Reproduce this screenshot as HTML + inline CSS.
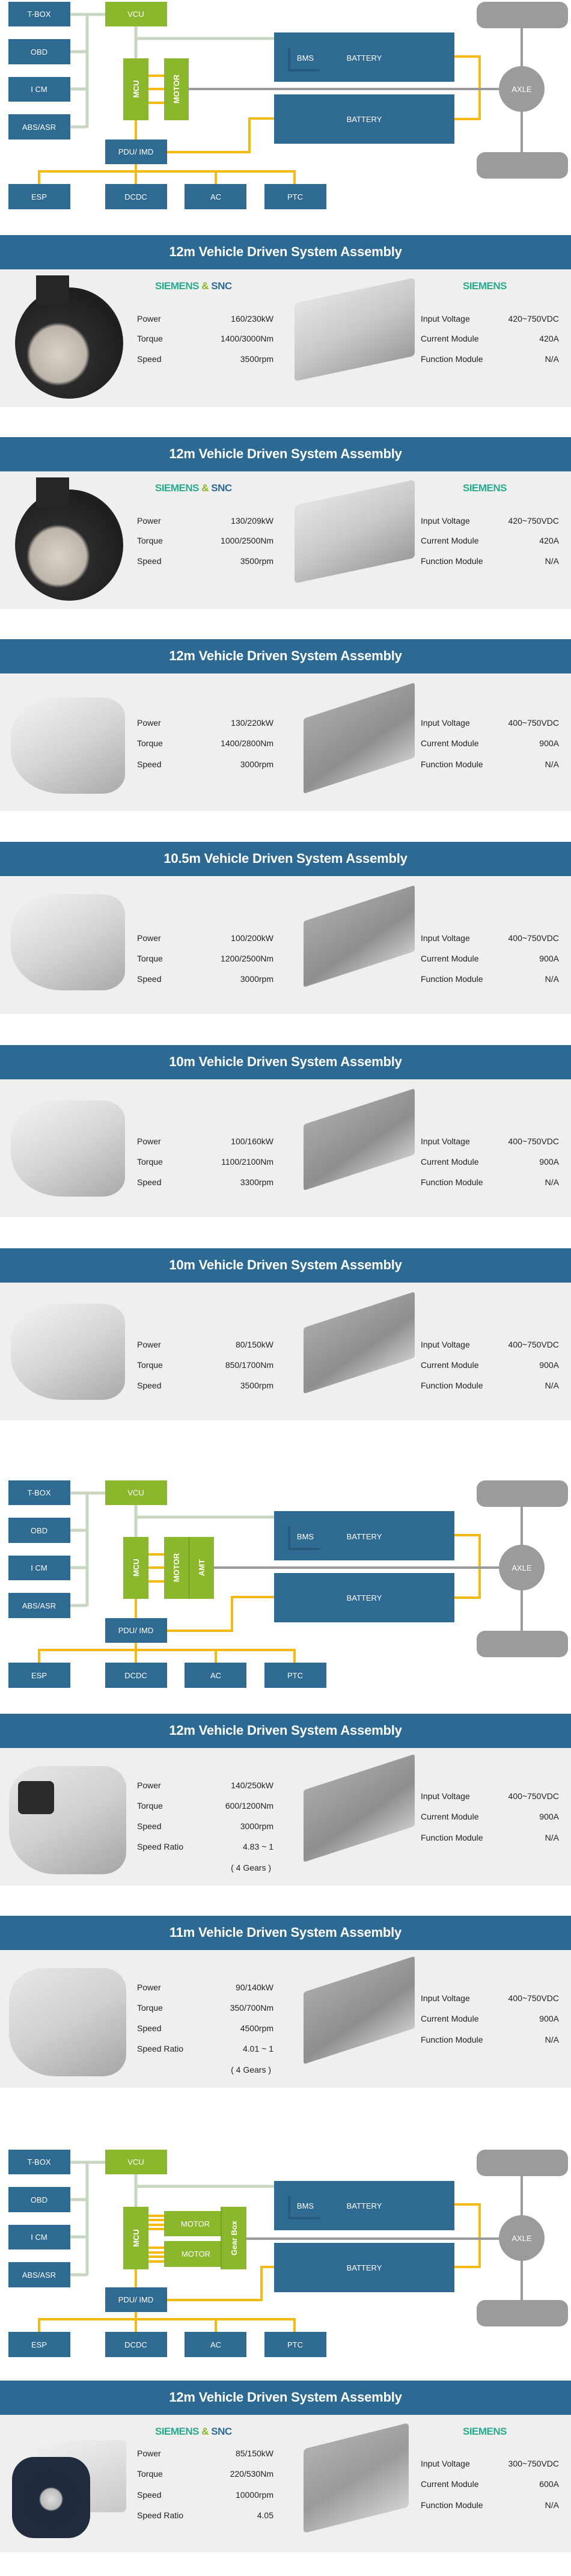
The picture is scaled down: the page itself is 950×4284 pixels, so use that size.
<!DOCTYPE html>
<html><head><meta charset="utf-8"><style>
*{margin:0;padding:0;box-sizing:border-box}
body{width:950px;height:4284px;background:#fff;position:relative;overflow:hidden;font-family:"Liberation Sans",sans-serif}
.dg{position:absolute;left:0;width:950px;height:350px}
.sec{position:absolute;left:0;width:950px;height:286px}
.hd{position:absolute;left:0;top:0;width:950px;height:57px;background:#2c6a93;color:#fff;font-weight:bold;font-size:22px;text-align:center;line-height:56px;letter-spacing:-0.2px}
.pn{position:absolute;left:0;top:57px;width:950px;height:229px;background:#efefef}
.r{position:absolute;font-size:14px;color:#222;line-height:16px;height:16px;white-space:nowrap}
.v{text-align:right}
.br{position:absolute;font-size:17px;font-weight:bold;letter-spacing:-0.5px;color:#2aaa8a;top:18px}
.mot{position:absolute}
</style></head><body>

<!-- Diagram template as SVG symbols defined inline per diagram -->
<svg class="dg" style="top:0" viewBox="0 0 950 350">
<g fill="none" stroke="#c9d6c1" stroke-width="5">
<path d="M117 24H175M145 24V212M117 86H145M117 148H145M117 211H145M226 44V97M226 64H510V76"/></g>
<g fill="none" stroke="#f5b914" stroke-width="4">
<path d="M247 126H273M247 148H273M247 171H273M226 200V232M278 253H415V197H456M756 94H798V198H756M226 273V306M65 306V285H490V306M359 285V306"/></g>
<g fill="none" stroke="#9a9a9a" stroke-width="4"><path d="M314 148H830M868 47V253"/></g>
<rect x="793" y="3" width="152" height="44" rx="14" fill="#9b9b9b"/><rect x="793" y="253" width="152" height="44" rx="14" fill="#9b9b9b"/>
<ellipse cx="868" cy="148" rx="38" ry="38" fill="#9b9b9b"/>
<g fill="#2f6a92"><rect x="14" y="3" width="103" height="41"/><rect x="14" y="65" width="103" height="42"/><rect x="14" y="128" width="103" height="41"/><rect x="14" y="190" width="103" height="42"/><rect x="175" y="232" width="103" height="41"/><rect x="14" y="306" width="103" height="42"/><rect x="175" y="306" width="103" height="42"/><rect x="307" y="306" width="103" height="42"/><rect x="440" y="306" width="103" height="42"/><rect x="456" y="54" width="300" height="82"/><rect x="456" y="157" width="300" height="82"/></g>
<path d="M481 80V117H532" stroke="#24577a" stroke-width="3" fill="none"/>
<g fill="#8ab72b"><rect x="175" y="3" width="103" height="41"/><rect x="205" y="97" width="42" height="103"/><rect x="273" y="97" width="41" height="103"/></g>
<g fill="#fff" font-family="Liberation Sans,sans-serif" font-size="13" text-anchor="middle">
<text x="65" y="28">T-BOX</text><text x="65" y="91">OBD</text><text x="65" y="153">I CM</text><text x="65" y="216">ABS/ASR</text><text x="226" y="28">VCU</text><text x="226" y="257">PDU/ IMD</text><text x="65" y="332">ESP</text><text x="226" y="332">DCDC</text><text x="359" y="332">AC</text><text x="491" y="332">PTC</text><text x="508" y="101">BMS</text><text x="606" y="101">BATTERY</text><text x="606" y="203">BATTERY</text><text x="868" y="153">AXLE</text>
<text font-weight="bold" transform="translate(231,148) rotate(-90)">MCU</text><text font-weight="bold" transform="translate(298,148) rotate(-90)">MOTOR</text></g>
</svg>

<svg class="dg" style="top:2459px" viewBox="0 0 950 350">
<g fill="none" stroke="#c9d6c1" stroke-width="5">
<path d="M117 24H175M145 24V212M117 86H145M117 148H145M117 211H145M226 44V97M226 64H510V76"/></g>
<g fill="none" stroke="#f5b914" stroke-width="4">
<path d="M247 126H273M247 148H273M247 171H273M226 200V232M278 253H386V197H456M756 94H798V198H756M226 273V306M65 306V285H490V306M359 285V306"/></g>
<g fill="none" stroke="#9a9a9a" stroke-width="4"><path d="M356 148H830M868 47V253"/></g>
<rect x="793" y="3" width="152" height="44" rx="14" fill="#9b9b9b"/><rect x="793" y="253" width="152" height="44" rx="14" fill="#9b9b9b"/>
<ellipse cx="868" cy="148" rx="38" ry="38" fill="#9b9b9b"/>
<g fill="#2f6a92"><rect x="14" y="3" width="103" height="41"/><rect x="14" y="65" width="103" height="42"/><rect x="14" y="128" width="103" height="41"/><rect x="14" y="190" width="103" height="42"/><rect x="175" y="232" width="103" height="41"/><rect x="14" y="306" width="103" height="42"/><rect x="175" y="306" width="103" height="42"/><rect x="307" y="306" width="103" height="42"/><rect x="440" y="306" width="103" height="42"/><rect x="456" y="54" width="300" height="82"/><rect x="456" y="157" width="300" height="82"/></g>
<path d="M481 80V117H532" stroke="#24577a" stroke-width="3" fill="none"/>
<g fill="#8ab72b"><rect x="175" y="3" width="103" height="41"/><rect x="205" y="97" width="42" height="103"/><rect x="273" y="97" width="41" height="103"/><rect x="315" y="97" width="41" height="103"/></g>
<path d="M314.5 97V200" stroke="#6f9a1f" stroke-width="1.5"/>
<g fill="#fff" font-family="Liberation Sans,sans-serif" font-size="13" text-anchor="middle">
<text x="65" y="28">T-BOX</text><text x="65" y="91">OBD</text><text x="65" y="153">I CM</text><text x="65" y="216">ABS/ASR</text><text x="226" y="28">VCU</text><text x="226" y="257">PDU/ IMD</text><text x="65" y="332">ESP</text><text x="226" y="332">DCDC</text><text x="359" y="332">AC</text><text x="491" y="332">PTC</text><text x="508" y="101">BMS</text><text x="606" y="101">BATTERY</text><text x="606" y="203">BATTERY</text><text x="868" y="153">AXLE</text>
<text font-weight="bold" transform="translate(231,148) rotate(-90)">MCU</text><text font-weight="bold" transform="translate(298,148) rotate(-90)">MOTOR</text><text font-weight="bold" transform="translate(340,148) rotate(-90)">AMT</text></g>
</svg>

<svg class="dg" style="top:3572px" viewBox="0 0 950 350">
<g fill="none" stroke="#c9d6c1" stroke-width="5">
<path d="M117 24H175M145 24V212M117 86H145M117 148H145M117 211H145M226 44V98M226 64H510V76"/></g>
<g fill="none" stroke="#f5b914" stroke-width="4">
<path d="M247 113H273M247 120H273M247 128H273M247 135H273M247 166H273M247 174H273M247 181H273M247 189H273M226 202V232M278 253H435V198H456M756 94H798V198H756M226 273V306M65 306V285H490V306M359 285V306"/></g>
<g fill="none" stroke="#9a9a9a" stroke-width="4"><path d="M410 151H830M868 47V253"/></g>
<rect x="793" y="3" width="152" height="44" rx="14" fill="#9b9b9b"/><rect x="793" y="253" width="152" height="44" rx="14" fill="#9b9b9b"/>
<ellipse cx="868" cy="150" rx="38" ry="38" fill="#9b9b9b"/>
<g fill="#2f6a92"><rect x="14" y="3" width="103" height="41"/><rect x="14" y="65" width="103" height="42"/><rect x="14" y="128" width="103" height="41"/><rect x="14" y="190" width="103" height="42"/><rect x="175" y="232" width="103" height="41"/><rect x="14" y="306" width="103" height="42"/><rect x="175" y="306" width="103" height="42"/><rect x="307" y="306" width="103" height="42"/><rect x="440" y="306" width="103" height="42"/><rect x="456" y="55" width="300" height="82"/><rect x="456" y="158" width="300" height="82"/></g>
<path d="M481 80V117H532" stroke="#24577a" stroke-width="3" fill="none"/>
<g fill="#8ab72b"><rect x="175" y="3" width="103" height="41"/><rect x="205" y="98" width="42" height="104"/><rect x="273" y="105" width="95" height="42"/><rect x="273" y="155" width="95" height="43"/><rect x="368" y="98" width="42" height="104"/></g>
<path d="M368 98V202" stroke="#6f9a1f" stroke-width="1.5"/>
<g fill="#fff" font-family="Liberation Sans,sans-serif" font-size="13" text-anchor="middle">
<text x="65" y="28">T-BOX</text><text x="65" y="91">OBD</text><text x="65" y="153">I CM</text><text x="65" y="216">ABS/ASR</text><text x="226" y="28">VCU</text><text x="226" y="257">PDU/ IMD</text><text x="65" y="332">ESP</text><text x="226" y="332">DCDC</text><text x="359" y="332">AC</text><text x="491" y="332">PTC</text><text x="508" y="101">BMS</text><text x="606" y="101">BATTERY</text><text x="606" y="204">BATTERY</text><text x="868" y="155">AXLE</text>
<text x="325" y="131">MOTOR</text><text x="326" y="181">MOTOR</text>
<text font-weight="bold" transform="translate(231,150) rotate(-90)">MCU</text><text font-weight="bold" transform="translate(394,150) rotate(-90)">Gear Box</text></g>
</svg>

<!-- Section 1 -->
<div class="sec" style="top:391px"><div class="hd">12m Vehicle Driven System Assembly</div><div class="pn">
<div class="br" style="left:258px">SIEMENS <span style="color:#8ab72b">&amp;</span> <span style="color:#2e6a96">SNC</span></div><div class="br" style="left:770px">SIEMENS</div>
<div class="mot" style="left:25px;top:30px;width:180px;height:185px;border-radius:50%;background:radial-gradient(circle at 40% 60%,#d8d2c8 0,#bdb5aa 30%,#2b2b2b 34%,#1e1e1e 70%,#333 100%)"></div>
<div class="mot" style="left:60px;top:10px;width:55px;height:50px;background:#262626"></div>
<div class="mot" style="left:490px;top:35px;width:200px;height:130px;background:linear-gradient(160deg,#e4e4e4,#c9c9c9 50%,#9c9c9c);transform:skewY(-12deg);border-radius:6px"></div>
<div class="r" style="left:228px;top:74px">Power</div><div class="r v" style="left:320px;width:135px;top:74px">160/230kW</div>
<div class="r" style="left:228px;top:107px">Torque</div><div class="r v" style="left:320px;width:135px;top:107px">1400/3000Nm</div>
<div class="r" style="left:228px;top:141px">Speed</div><div class="r v" style="left:320px;width:135px;top:141px">3500rpm</div>
<div class="r" style="left:700px;top:74px">Input Voltage</div><div class="r v" style="left:800px;width:130px;top:74px">420~750VDC</div>
<div class="r" style="left:700px;top:107px">Current Module</div><div class="r v" style="left:800px;width:130px;top:107px">420A</div>
<div class="r" style="left:700px;top:141px">Function Module</div><div class="r v" style="left:800px;width:130px;top:141px">N/A</div>
</div></div>

<!-- Section 2 -->
<div class="sec" style="top:727px"><div class="hd">12m Vehicle Driven System Assembly</div><div class="pn">
<div class="br" style="left:258px">SIEMENS <span style="color:#8ab72b">&amp;</span> <span style="color:#2e6a96">SNC</span></div><div class="br" style="left:770px">SIEMENS</div>
<div class="mot" style="left:25px;top:30px;width:180px;height:185px;border-radius:50%;background:radial-gradient(circle at 40% 60%,#d8d2c8 0,#bdb5aa 30%,#2b2b2b 34%,#1e1e1e 70%,#333 100%)"></div>
<div class="mot" style="left:60px;top:10px;width:55px;height:50px;background:#262626"></div>
<div class="mot" style="left:490px;top:35px;width:200px;height:130px;background:linear-gradient(160deg,#e4e4e4,#c9c9c9 50%,#9c9c9c);transform:skewY(-12deg);border-radius:6px"></div>
<div class="r" style="left:228px;top:74px">Power</div><div class="r v" style="left:320px;width:135px;top:74px">130/209kW</div>
<div class="r" style="left:228px;top:107px">Torque</div><div class="r v" style="left:320px;width:135px;top:107px">1000/2500Nm</div>
<div class="r" style="left:228px;top:141px">Speed</div><div class="r v" style="left:320px;width:135px;top:141px">3500rpm</div>
<div class="r" style="left:700px;top:74px">Input Voltage</div><div class="r v" style="left:800px;width:130px;top:74px">420~750VDC</div>
<div class="r" style="left:700px;top:107px">Current Module</div><div class="r v" style="left:800px;width:130px;top:107px">420A</div>
<div class="r" style="left:700px;top:141px">Function Module</div><div class="r v" style="left:800px;width:130px;top:141px">N/A</div>
</div></div>

<!-- Sections 3-6 (silver motors) -->
<div class="sec" style="top:1063px"><div class="hd">12m Vehicle Driven System Assembly</div><div class="pn">
<div class="mot" style="left:18px;top:40px;width:190px;height:160px;border-radius:40% 20% 20% 45%;background:linear-gradient(150deg,#f4f4f4,#d6d6d6 50%,#a9a9a9)"></div>
<div class="mot" style="left:505px;top:45px;width:185px;height:125px;background:linear-gradient(160deg,#a8a8a8,#8e8e8e 60%,#c8c8c8);transform:skewY(-18deg);border-radius:4px"></div>
<div class="r" style="left:228px;top:74px">Power</div><div class="r v" style="left:320px;width:135px;top:74px">130/220kW</div>
<div class="r" style="left:228px;top:108px">Torque</div><div class="r v" style="left:320px;width:135px;top:108px">1400/2800Nm</div>
<div class="r" style="left:228px;top:143px">Speed</div><div class="r v" style="left:320px;width:135px;top:143px">3000rpm</div>
<div class="r" style="left:700px;top:74px">Input Voltage</div><div class="r v" style="left:800px;width:130px;top:74px">400~750VDC</div>
<div class="r" style="left:700px;top:108px">Current Module</div><div class="r v" style="left:800px;width:130px;top:108px">900A</div>
<div class="r" style="left:700px;top:143px">Function Module</div><div class="r v" style="left:800px;width:130px;top:143px">N/A</div>
</div></div>

<div class="sec" style="top:1400px"><div class="hd">10.5m Vehicle Driven System Assembly</div><div class="pn">
<div class="mot" style="left:18px;top:30px;width:190px;height:160px;border-radius:40% 20% 20% 45%;background:linear-gradient(150deg,#f4f4f4,#d6d6d6 50%,#a9a9a9)"></div>
<div class="mot" style="left:505px;top:45px;width:185px;height:110px;background:linear-gradient(160deg,#a8a8a8,#8e8e8e 60%,#c8c8c8);transform:skewY(-18deg);border-radius:4px"></div>
<div class="r" style="left:228px;top:95px">Power</div><div class="r v" style="left:320px;width:135px;top:95px">100/200kW</div>
<div class="r" style="left:228px;top:129px">Torque</div><div class="r v" style="left:320px;width:135px;top:129px">1200/2500Nm</div>
<div class="r" style="left:228px;top:163px">Speed</div><div class="r v" style="left:320px;width:135px;top:163px">3000rpm</div>
<div class="r" style="left:700px;top:95px">Input Voltage</div><div class="r v" style="left:800px;width:130px;top:95px">400~750VDC</div>
<div class="r" style="left:700px;top:129px">Current Module</div><div class="r v" style="left:800px;width:130px;top:129px">900A</div>
<div class="r" style="left:700px;top:163px">Function Module</div><div class="r v" style="left:800px;width:130px;top:163px">N/A</div>
</div></div>

<div class="sec" style="top:1738px"><div class="hd">10m Vehicle Driven System Assembly</div><div class="pn">
<div class="mot" style="left:18px;top:35px;width:190px;height:160px;border-radius:40% 20% 20% 45%;background:linear-gradient(150deg,#f4f4f4,#d6d6d6 50%,#a9a9a9)"></div>
<div class="mot" style="left:505px;top:45px;width:185px;height:110px;background:linear-gradient(160deg,#a8a8a8,#8e8e8e 60%,#c8c8c8);transform:skewY(-18deg);border-radius:4px"></div>
<div class="r" style="left:228px;top:95px">Power</div><div class="r v" style="left:320px;width:135px;top:95px">100/160kW</div>
<div class="r" style="left:228px;top:129px">Torque</div><div class="r v" style="left:320px;width:135px;top:129px">1100/2100Nm</div>
<div class="r" style="left:228px;top:163px">Speed</div><div class="r v" style="left:320px;width:135px;top:163px">3300rpm</div>
<div class="r" style="left:700px;top:95px">Input Voltage</div><div class="r v" style="left:800px;width:130px;top:95px">400~750VDC</div>
<div class="r" style="left:700px;top:129px">Current Module</div><div class="r v" style="left:800px;width:130px;top:129px">900A</div>
<div class="r" style="left:700px;top:163px">Function Module</div><div class="r v" style="left:800px;width:130px;top:163px">N/A</div>
</div></div>

<div class="sec" style="top:2076px"><div class="hd">10m Vehicle Driven System Assembly</div><div class="pn">
<div class="mot" style="left:18px;top:35px;width:190px;height:160px;border-radius:40% 20% 20% 45%;background:linear-gradient(150deg,#f4f4f4,#d6d6d6 50%,#a9a9a9)"></div>
<div class="mot" style="left:505px;top:45px;width:185px;height:110px;background:linear-gradient(160deg,#a8a8a8,#8e8e8e 60%,#c8c8c8);transform:skewY(-18deg);border-radius:4px"></div>
<div class="r" style="left:228px;top:95px">Power</div><div class="r v" style="left:320px;width:135px;top:95px">80/150kW</div>
<div class="r" style="left:228px;top:129px">Torque</div><div class="r v" style="left:320px;width:135px;top:129px">850/1700Nm</div>
<div class="r" style="left:228px;top:163px">Speed</div><div class="r v" style="left:320px;width:135px;top:163px">3500rpm</div>
<div class="r" style="left:700px;top:95px">Input Voltage</div><div class="r v" style="left:800px;width:130px;top:95px">400~750VDC</div>
<div class="r" style="left:700px;top:129px">Current Module</div><div class="r v" style="left:800px;width:130px;top:129px">900A</div>
<div class="r" style="left:700px;top:163px">Function Module</div><div class="r v" style="left:800px;width:130px;top:163px">N/A</div>
</div></div>

<!-- Sections 7-8 (AMT) -->
<div class="sec" style="top:2850px"><div class="hd">12m Vehicle Driven System Assembly</div><div class="pn">
<div class="mot" style="left:15px;top:30px;width:195px;height:180px;border-radius:30% 20% 20% 40%;background:linear-gradient(150deg,#e8e8e8,#d0d0d0 50%,#a5a5a5)"></div>
<div class="mot" style="left:30px;top:55px;width:60px;height:55px;background:#2a2a2a;border-radius:8px"></div>
<div class="mot" style="left:505px;top:40px;width:185px;height:120px;background:linear-gradient(160deg,#a8a8a8,#8e8e8e 60%,#c8c8c8);transform:skewY(-18deg);border-radius:4px"></div>
<div class="r" style="left:228px;top:54px">Power</div><div class="r v" style="left:320px;width:135px;top:54px">140/250kW</div>
<div class="r" style="left:228px;top:88px">Torque</div><div class="r v" style="left:320px;width:135px;top:88px">600/1200Nm</div>
<div class="r" style="left:228px;top:122px">Speed</div><div class="r v" style="left:320px;width:135px;top:122px">3000rpm</div>
<div class="r" style="left:228px;top:156px">Speed Ratio</div><div class="r v" style="left:320px;width:135px;top:156px">4.83 ~ 1</div>
<div class="r v" style="left:320px;width:131px;top:191px">( 4 Gears )</div>
<div class="r" style="left:700px;top:72px">Input Voltage</div><div class="r v" style="left:800px;width:130px;top:72px">400~750VDC</div>
<div class="r" style="left:700px;top:106px">Current Module</div><div class="r v" style="left:800px;width:130px;top:106px">900A</div>
<div class="r" style="left:700px;top:141px">Function Module</div><div class="r v" style="left:800px;width:130px;top:141px">N/A</div>
</div></div>

<div class="sec" style="top:3186px"><div class="hd">11m Vehicle Driven System Assembly</div><div class="pn">
<div class="mot" style="left:15px;top:30px;width:195px;height:180px;border-radius:30% 20% 20% 40%;background:linear-gradient(150deg,#e8e8e8,#d0d0d0 50%,#a5a5a5)"></div>
<div class="mot" style="left:505px;top:40px;width:185px;height:120px;background:linear-gradient(160deg,#a8a8a8,#8e8e8e 60%,#c8c8c8);transform:skewY(-18deg);border-radius:4px"></div>
<div class="r" style="left:228px;top:54px">Power</div><div class="r v" style="left:320px;width:135px;top:54px">90/140kW</div>
<div class="r" style="left:228px;top:88px">Torque</div><div class="r v" style="left:320px;width:135px;top:88px">350/700Nm</div>
<div class="r" style="left:228px;top:122px">Speed</div><div class="r v" style="left:320px;width:135px;top:122px">4500rpm</div>
<div class="r" style="left:228px;top:156px">Speed Ratio</div><div class="r v" style="left:320px;width:135px;top:156px">4.01 ~ 1</div>
<div class="r v" style="left:320px;width:131px;top:191px">( 4 Gears )</div>
<div class="r" style="left:700px;top:72px">Input Voltage</div><div class="r v" style="left:800px;width:130px;top:72px">400~750VDC</div>
<div class="r" style="left:700px;top:106px">Current Module</div><div class="r v" style="left:800px;width:130px;top:106px">900A</div>
<div class="r" style="left:700px;top:141px">Function Module</div><div class="r v" style="left:800px;width:130px;top:141px">N/A</div>
</div></div>

<!-- Section 9 -->
<div class="sec" style="top:3959px"><div class="hd">12m Vehicle Driven System Assembly</div><div class="pn">
<div class="br" style="left:258px">SIEMENS <span style="color:#8ab72b">&amp;</span> <span style="color:#2e6a96">SNC</span></div><div class="br" style="left:770px">SIEMENS</div>
<div class="mot" style="left:60px;top:42px;width:150px;height:120px;background:linear-gradient(160deg,#f2f2f2,#c8c8c8);border-radius:8px"></div>
<div class="mot" style="left:20px;top:70px;width:130px;height:135px;border-radius:28%;background:radial-gradient(circle at 50% 52%,#ddd 0,#bbb 18%,#1f2a3c 21%,#222c3e 100%)"></div>
<div class="mot" style="left:505px;top:35px;width:175px;height:140px;background:linear-gradient(160deg,#b0b0b0,#9a9a9a 50%,#d0d0d0);transform:skewY(-14deg);border-radius:6px"></div>
<div class="r" style="left:228px;top:56px">Power</div><div class="r v" style="left:320px;width:135px;top:56px">85/150kW</div>
<div class="r" style="left:228px;top:90px">Torque</div><div class="r v" style="left:320px;width:135px;top:90px">220/530Nm</div>
<div class="r" style="left:228px;top:125px">Speed</div><div class="r v" style="left:320px;width:135px;top:125px">10000rpm</div>
<div class="r" style="left:228px;top:159px">Speed Ratio</div><div class="r v" style="left:320px;width:135px;top:159px">4.05</div>
<div class="r" style="left:700px;top:73px">Input Voltage</div><div class="r v" style="left:800px;width:130px;top:73px">300~750VDC</div>
<div class="r" style="left:700px;top:107px">Current Module</div><div class="r v" style="left:800px;width:130px;top:107px">600A</div>
<div class="r" style="left:700px;top:142px">Function Module</div><div class="r v" style="left:800px;width:130px;top:142px">N/A</div>
</div></div>

</body></html>
